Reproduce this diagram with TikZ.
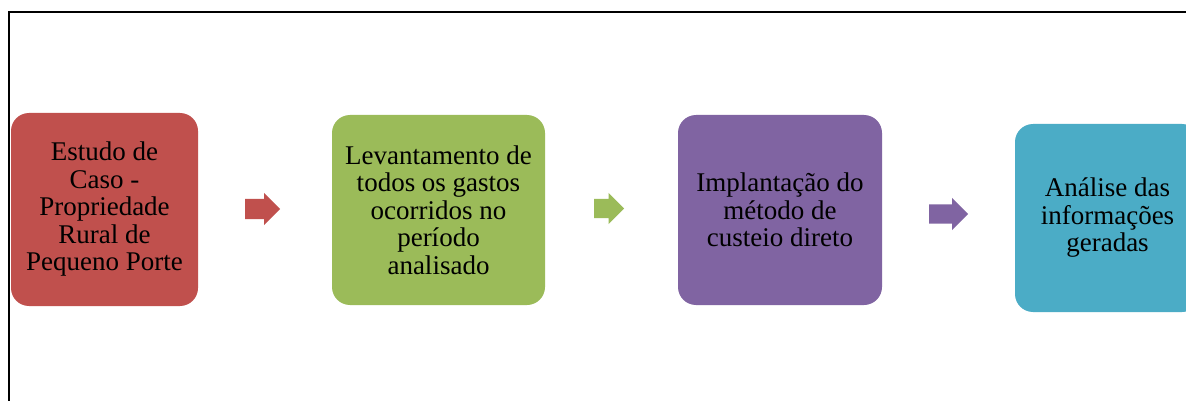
\documentclass[tikz,border=0pt]{standalone}
\usepackage{fontspec}
\setmainfont{Liberation Serif}
\usetikzlibrary{shapes.arrows}
\definecolor{casored}{HTML}{C0504D}
\definecolor{gastogreen}{HTML}{9BBB59}
\definecolor{metodopurple}{HTML}{8064A2}
\definecolor{analiseblue}{HTML}{4BACC6}
\begin{document}
\begin{tikzpicture}[x=1pt, y=-1pt,
    stage/.style={rectangle, rounded corners=18pt, inner sep=0pt, align=center,
      font=\fontsize{27}{27.5}\selectfont},
    blockarrow/.style={single arrow, single arrow head extend=6pt, inner xsep=0pt, inner ysep=10pt, anchor=tail}]
      \clip (0, 0) rectangle (1186, 401);
      \fill [white] (0, 0) rectangle (1186, 401);
      \draw [line width=2pt] (8.7, 402) -- (8.7, 12) -- (1190, 12);
      \node [stage, fill=casored, minimum width=187pt, minimum height=193pt] (caso) at (104.5, 209.5)
        {Estudo de\\Caso -\\Propriedade\\Rural de\\Pequeno Porte};
      \node [stage, fill=gastogreen, minimum width=213pt, minimum height=190pt] (gastos) at (438.5, 210)
        {Levantamento de\\todos os gastos\\ocorridos no\\período\\analisado};
      \node [stage, fill=metodopurple, minimum width=204pt, minimum height=190pt] (metodo) at (780, 210)
        {Implantação do\\método de\\custeio direto};
      \node [stage, fill=analiseblue, minimum width=185pt, minimum height=188pt] (analise) at (1107.5, 218)
        {Análise das\\informações\\geradas};
      \node [blockarrow, fill=casored, minimum height=35pt] (seta1) at (245, 209) {};
      \node [blockarrow, fill=gastogreen, minimum height=30pt, inner ysep=9.5pt] (seta2) at (594, 208.5) {};
      \node [blockarrow, fill=metodopurple, minimum height=39pt, inner ysep=9.5pt,
        single arrow head extend=6.5pt] (seta3) at (929, 214) {};
    \end{tikzpicture}
\end{document}
